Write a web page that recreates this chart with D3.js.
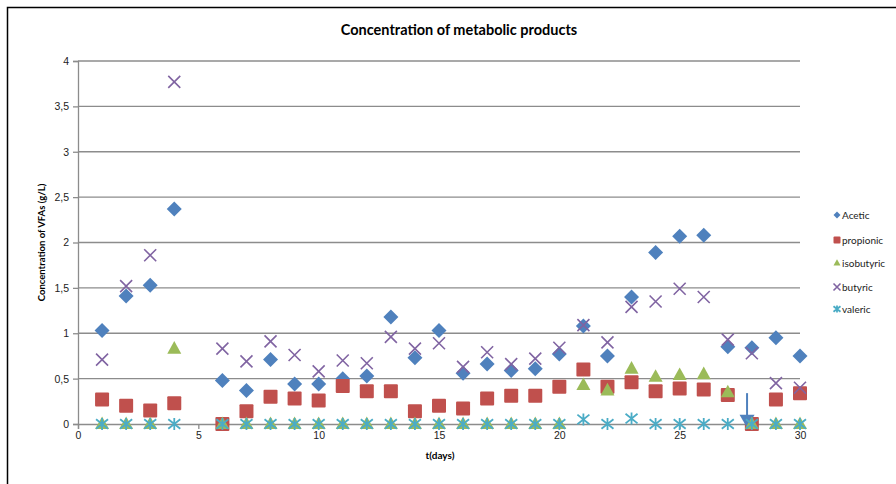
<!DOCTYPE html>
<html>
<head>
<meta charset="utf-8">
<script src="https://cdn.jsdelivr.net/npm/d3@7/dist/d3.min.js"></script>
<style>
  body { margin: 0; background: #fff; }
  svg { font-family: Lato, "Open Sans", sans-serif; }
</style>
</head>
<body>
<svg id="chart" width="896" height="484"></svg>
<script>
// days (no sample on day 5)
var days = [1,2,3,4,6,7,8,9,10,11,12,13,14,15,16,17,18,19,20,21,22,23,24,25,26,27,28,29,30];

var acetic     = [1.03,1.41,1.53,2.37,0.48,0.37,0.71,0.44,0.44,0.50,0.53,1.18,0.73,1.03,0.56,0.66,0.59,0.61,0.77,1.08,0.75,1.40,1.89,2.07,2.08,0.85,0.84,0.95,0.75];
var propionic  = [0.27,0.20,0.15,0.23,0.00,0.14,0.30,0.28,0.26,0.42,0.36,0.36,0.14,0.20,0.17,0.28,0.31,0.31,0.41,0.60,0.41,0.46,0.36,0.39,0.38,0.32,0.00,0.27,0.34];
var isobutyric = [0,0,0,0.83,0,0,0,0,0,0,0,0,0,0,0,0,0,0,0,0.43,0.37,0.61,0.52,0.54,0.55,0.35,0,0,0];
var butyric    = [0.71,1.52,1.86,3.77,0.83,0.69,0.91,0.76,0.58,0.70,0.67,0.96,0.83,0.89,0.63,0.79,0.66,0.72,0.84,1.09,0.90,1.29,1.35,1.49,1.40,0.93,0.78,0.45,0.40];
var valeric    = [0,0,0,0,0,0,0,0,0,0,0,0,0,0,0,0,0,0,0,0.05,0,0.06,0,0,0,0,0,0,0];

var seriesNames  = ['Acetic','propionic','isobutyric','butyric','valeric'];
var seriesColors = ['#4F81BD','#C0504D','#9BBB59','#8064A2','#4BACC6'];
var seriesShapes = ['diamond','square','triangle','cross','star'];

var xTicks = [0,5,10,15,20,25,30];
var yTicks = [0,0.5,1,1.5,2,2.5,3,3.5,4];

// arrow drawn near day 28
var arrowDay = 27.8, arrowFrom = 0.34, arrowTo = -0.04;

var svg = d3.select('#chart');
var W = 896, H = 484;

// outer frame
svg.append('rect').attr('x',7.5).attr('y',7.5).attr('width',W+10).attr('height',H+10)
  .attr('fill','none').attr('stroke','#000').attr('stroke-width',1.5);

var x = d3.scaleLinear().domain([0,30]).range([78,800]);
var y = d3.scaleLinear().domain([0,4]).range([424,61]);

// gridlines
svg.append('g').selectAll('line').data(yTicks.slice(1)).enter().append('line')
  .attr('x1',x(0)).attr('x2',x(30)).attr('y1',function(d){return y(d)}).attr('y2',function(d){return y(d)})
  .attr('stroke','#8c8c8c').attr('stroke-width',1.3);

// y axis
var yAxis = svg.append('g').attr('transform','translate(' + x(0) + ',0)')
  .call(d3.axisLeft(y).tickValues(yTicks).tickSize(5).tickPadding(4)
    .tickFormat(function(d){return String(d).replace('.',',')}));
yAxis.select('.domain').attr('stroke','#8c8c8c').attr('stroke-width',1.3);
yAxis.selectAll('.tick line').attr('stroke','#8c8c8c').attr('stroke-width',1.3);
yAxis.selectAll('text').attr('font-size',10.5).attr('fill','#222');

// x axis
var xAxis = svg.append('g').attr('transform','translate(0,' + y(0) + ')')
  .call(d3.axisBottom(x).tickValues(xTicks).tickSize(5).tickPadding(3));
xAxis.select('.domain').attr('stroke','#8c8c8c').attr('stroke-width',1.3);
xAxis.selectAll('.tick line').attr('stroke','#8c8c8c').attr('stroke-width',1.3);
xAxis.selectAll('text').attr('font-size',10.5).attr('fill','#222');

// marker builder
function marker(sel, shape, color, s){
  var r = s/2;
  if(shape === 'diamond'){
    sel.append('path').attr('d','M0,' + (-r) + 'L' + r + ',0L0,' + r + 'L' + (-r) + ',0Z')
      .attr('fill',color);
  } else if(shape === 'square'){
    sel.append('rect').attr('x',-r).attr('y',-r).attr('width',s).attr('height',s).attr('rx',1)
      .attr('fill',color);
  } else if(shape === 'triangle'){
    var h = s*0.9;
    sel.append('path').attr('d','M0,' + (-h*0.6) + 'L' + r + ',' + (h*0.4) + 'L' + (-r) + ',' + (h*0.4) + 'Z')
      .attr('fill',color);
  } else if(shape === 'cross'){
    sel.append('path').attr('d','M' + (-r) + ',' + (-r) + 'L' + r + ',' + r + 'M' + (-r) + ',' + r + 'L' + r + ',' + (-r))
      .attr('stroke',color).attr('stroke-width',1.6).attr('fill','none');
  } else if(shape === 'star'){
    sel.append('path').attr('d','M' + (-r) + ',' + (-r*0.8) + 'L' + r + ',' + (r*0.8) + 'M' + (-r) + ',' + (r*0.8) + 'L' + r + ',' + (-r*0.8) + 'M0,' + (-r) + 'L0,' + r)
      .attr('stroke',color).attr('stroke-width',1.8).attr('fill','none');
  }
}

function drawArrow(){
  var ax = x(arrowDay), ay0 = y(arrowFrom), ay1 = y(arrowTo);
  svg.append('line').attr('x1',ax).attr('x2',ax)
    .attr('y1',ay0).attr('y2',ay1 - 12)
    .attr('stroke','#4F81BD').attr('stroke-width',2);
  svg.append('path')
    .attr('d','M' + (ax-7.5) + ',' + (ay1-13) + 'L' + (ax+7.5) + ',' + (ay1-13) + 'L' + ax + ',' + ay1 + 'Z')
    .attr('fill','#4F81BD');
}

var allSeries = [acetic, propionic, isobutyric, butyric, valeric];
var sizes = [15,14,14,12,12];

allSeries.forEach(function(vals, i){
  var pts = days.map(function(d,j){return {day:d, v:vals[j]}});
  svg.append('g').selectAll('g').data(pts).enter().append('g')
    .attr('transform',function(d){return 'translate(' + x(d.day) + ',' + y(d.v) + ')'})
    .each(function(){ marker(d3.select(this), seriesShapes[i], seriesColors[i], sizes[i]); });
  if(i === 1) drawArrow();
});

// title
svg.append('text').attr('x',459).attr('y',35).attr('text-anchor','middle')
  .attr('font-size',14.5).attr('font-weight','bold').text('Concentration of metabolic products');

// axis titles
svg.append('text').attr('x',440).attr('y',459).attr('text-anchor','middle')
  .attr('font-size',10).attr('font-weight','bold').text('t(days)');
svg.append('text').attr('transform','translate(45,' + y(2) + ') rotate(-90)').attr('text-anchor','middle')
  .attr('font-size',9.5).attr('font-weight','bold').text('Concentration of VFAs (g/L)');

// legend
var legendY = [215,240,263,287,309];
var lg = svg.append('g').selectAll('g').data(seriesNames).enter().append('g')
  .attr('transform',function(d,i){return 'translate(837,' + legendY[i] + ')'});
lg.each(function(d,i){ marker(d3.select(this), seriesShapes[i], seriesColors[i], 7); });
lg.append('text').attr('x',5).attr('y',3.5).attr('font-size',10).attr('fill','#222').text(function(d){return d});
</script>
</body>
</html>
